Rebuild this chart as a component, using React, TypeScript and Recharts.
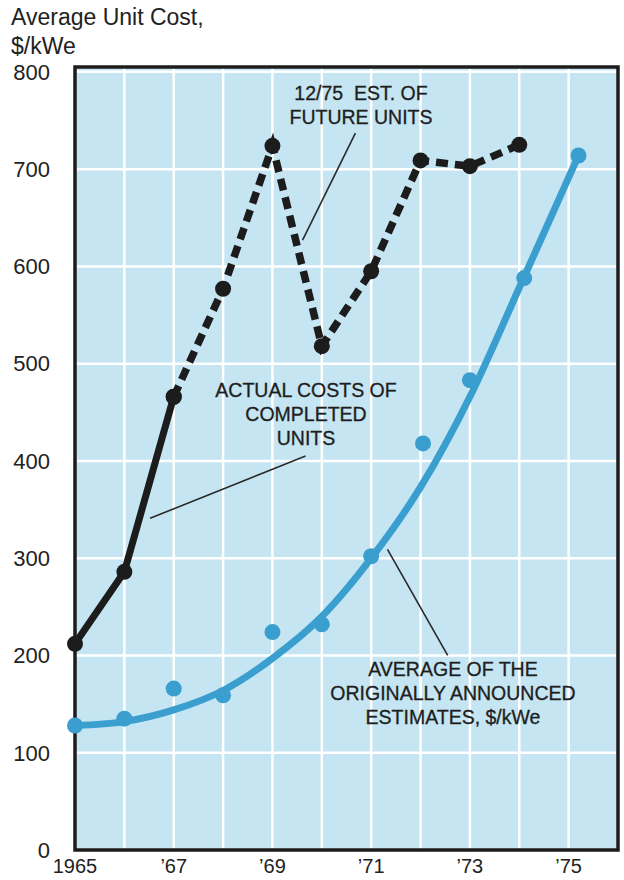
import { CartesianGrid, ComposedChart, Line, ReferenceArea, ReferenceLine, Scatter, XAxis, YAxis } from "recharts"

// actual costs of completed units
const actualYears = [1965, 1966, 1967]
const actualCost = [212, 286, 466]

// 12/75 estimate of future units
const estYears = [1967, 1968, 1969, 1970, 1971, 1972, 1973, 1974]
const estCost = [466, 577, 724, 518, 595, 709, 703, 725]

// originally announced estimates (dots)
const announcedYears = [1965, 1966, 1967, 1968, 1969, 1970, 1971, 1972.05, 1973, 1974.1, 1975.2]
const announcedCost = [128, 135, 166, 159, 224, 232, 302, 418, 483, 588, 714]

// smooth fitted curve through the announced estimates
const trendYears = [1965, 1966, 1967, 1968, 1969, 1970, 1971, 1972, 1973, 1974, 1975.2]
const trendCost = [128, 132, 144, 164, 197, 240, 300, 373, 466, 578, 714]

const xTicks = [1965, 1966, 1967, 1968, 1969, 1970, 1971, 1972, 1973, 1974, 1975, 1976]
const xTickLabels: Record<number, string> = {
    1965: "1965",
    1967: "\u201967",
    1969: "\u201969",
    1971: "\u201971",
    1973: "\u201973",
    1975: "\u201975",
}
const yTicks = [0, 100, 200, 300, 400, 500, 600, 700, 800]

// leader lines from the notes to the series: [x1, y1, x2, y2]
const leaders = [
    [1970.68, 737, 1969.61, 627],
    [1969.67, 405, 1966.52, 341],
    [1971.33, 309, 1972.55, 200],
]

const BLUE = "#3a9fcf"
const BLACK = "#1c1c1c"
const FONT = "'Liberation Sans', Arial, sans-serif"

const toPoints = (xs: number[], ys: number[]) => xs.map((x, i) => ({ x, y: ys[i] }))

const BlueDot = (props: any) => <circle cx={props.cx} cy={props.cy} r={8} fill={BLUE} />

const notes = [
    { x: 361, y: 100, lines: ["12/75\u00a0 EST. OF", "FUTURE UNITS"] },
    { x: 306, y: 397, lines: ["ACTUAL COSTS OF", "COMPLETED", "UNITS"] },
    { x: 453, y: 676, lines: ["AVERAGE OF THE", "ORIGINALLY ANNOUNCED", "ESTIMATES, $/kWe"] },
]

const App = () => {
    return (
        <div style={{ position: "absolute", left: 0, top: 0, width: 624, height: 880, background: "#fff", fontFamily: FONT }}>
            <div style={{ position: "absolute", left: 11, top: 3, fontSize: 23, lineHeight: "29px", color: "#222" }}>
                Average Unit Cost,
                <br />
                $/kWe
            </div>
            <ComposedChart width={624} height={880} margin={{ top: 67, right: 6, left: 0, bottom: 0 }}>
                <CartesianGrid fill="#c4e5f1" stroke="#fff" strokeWidth={2.5} />
                <XAxis
                    type="number"
                    dataKey="x"
                    domain={[1965, 1976]}
                    ticks={xTicks}
                    tickFormatter={(v: number) => xTickLabels[v] || ""}
                    tickLine={false}
                    axisLine={false}
                    tickSize={0}
                    tickMargin={9}
                    height={30}
                    interval={0}
                    tick={{ fill: "#222", fontSize: 20, fontFamily: FONT }}
                />
                <YAxis
                    type="number"
                    dataKey="y"
                    domain={[0, 805]}
                    ticks={yTicks}
                    tickLine={false}
                    axisLine={false}
                    tickSize={0}
                    tickMargin={25}
                    width={75}
                    interval={0}
                    tick={{ fill: "#222", fontSize: 22, fontFamily: FONT }}
                />
                <ReferenceArea x1={1965} x2={1976} y1={0} y2={805} fill="none" stroke={BLACK} strokeWidth={3.5} />
                {leaders.map((l, i) => (
                    <ReferenceLine
                        key={i}
                        segment={[
                            { x: l[0], y: l[1] },
                            { x: l[2], y: l[3] },
                        ]}
                        stroke="#2a2a2a"
                        strokeWidth={1.6}
                    />
                ))}
                <Line
                    data={toPoints(trendYears, trendCost)}
                    dataKey="y"
                    type="monotone"
                    stroke={BLUE}
                    strokeWidth={7}
                    strokeLinecap="round"
                    dot={false}
                    isAnimationActive={false}
                />
                <Scatter data={toPoints(announcedYears, announcedCost)} dataKey="y" shape={BlueDot} isAnimationActive={false} />
                <Line
                    data={toPoints(estYears, estCost)}
                    dataKey="y"
                    type="linear"
                    stroke={BLACK}
                    strokeWidth={7.5}
                    strokeDasharray="12 7"
                    dot={{ r: 8, fill: BLACK, stroke: "none", strokeDasharray: "" }}
                    isAnimationActive={false}
                />
                <Line
                    data={toPoints(actualYears, actualCost)}
                    dataKey="y"
                    type="linear"
                    stroke={BLACK}
                    strokeWidth={7}
                    dot={{ r: 8, fill: BLACK, stroke: "none" }}
                    isAnimationActive={false}
                />
            </ComposedChart>
            <svg width={624} height={880} style={{ position: "absolute", left: 0, top: 0, pointerEvents: "none" }}>
                {notes.map((n, i) => (
                    <text key={i} x={n.x} y={n.y} textAnchor="middle" fontSize={19.5} fontFamily={FONT} fill="#1e1e1e" stroke="#1e1e1e" strokeWidth={0.3}>
                        {n.lines.map((t, j) => (
                            <tspan key={j} x={n.x} dy={j === 0 ? 0 : 24}>
                                {t}
                            </tspan>
                        ))}
                    </text>
                ))}
            </svg>
        </div>
    )
}

export default App
